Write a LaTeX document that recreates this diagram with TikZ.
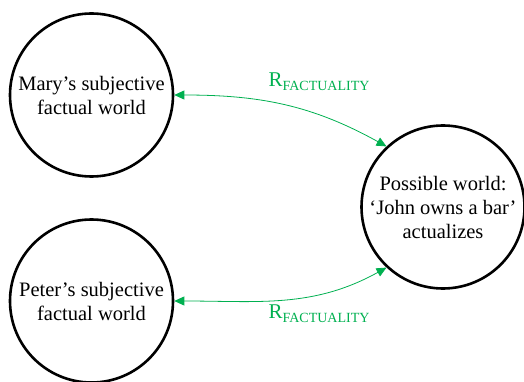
\documentclass[tikz,border=0pt]{standalone}
\usepackage{fontspec}
\setmainfont{Liberation Serif}
\usetikzlibrary{arrows.meta}
\definecolor{fgreen}{RGB}{0,176,80}
\newcommand{\rfact}{R\raisebox{-4pt}{\fontsize{14}{14}\selectfont FACTUALITY}}
\tikzset{
  world/.style={draw, circle, line width=2.6pt, minimum size=163pt, inner sep=0pt,
    align=center, font=\fontsize{20.5}{24}\selectfont},
  rel/.style={fgreen, line width=0.8pt, {Triangle[length=10pt,width=9pt]}-{Triangle[length=10pt,width=9pt]}},
  rlabel/.style={fgreen, font=\fontsize{21}{24}\selectfont}
}
\begin{document}
\begin{tikzpicture}[x=1pt,y=-1pt]
\useasboundingbox (0,0) rectangle (524,382);
\node[world] (mary) at (91.5,95) {Mary’s subjective\\factual world};
\node[world] (peter) at (91.5,301) {Peter’s subjective\\factual world};
\node[world] (poss) at (443,207) {Possible world:\\‘John owns a bar’\\actualizes};
\draw[rel] (mary.east) to[out=0,in=151] (poss.133);
\draw[rel] (peter.east) to[out=0,in=209] (poss.227);
\node[rlabel] (l1) at (319,82) {\rfact};
\node[rlabel] (l2) at (319,314) {\rfact};
\end{tikzpicture}
\end{document}
